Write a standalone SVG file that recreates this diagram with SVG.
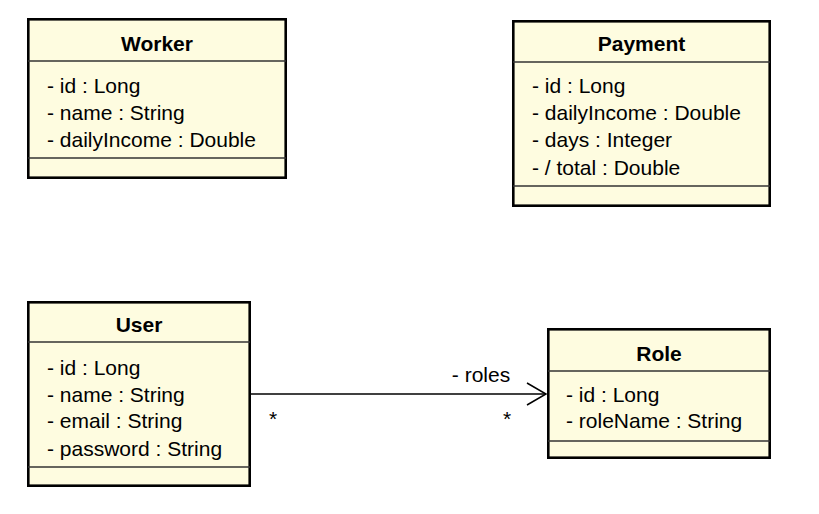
<svg xmlns="http://www.w3.org/2000/svg" width="819" height="514" viewBox="0 0 819 514">
<style>
.box{fill:#FEFCE0;stroke:#000;stroke-width:2.6}
.div{stroke:#333;stroke-width:1.5}
text{font-family:"Liberation Sans",Arial,sans-serif;font-size:21px;fill:#000}
.t{font-weight:bold;text-anchor:middle}
.c{stroke:#000;stroke-width:1.5;fill:none}
</style>
<rect width="819" height="514" fill="#fff"/>
<g id="Worker">
<rect class="box" x="28.3" y="19.3" width="257.4" height="158.4"/>
<line class="div" x1="28" y1="61" x2="286" y2="61"/>
<line class="div" x1="28" y1="158" x2="286" y2="158"/>
<text class="t" x="157" y="51">Worker</text>
<text x="47" y="93">- id : Long</text>
<text x="47" y="120">- name : String</text>
<text x="47" y="147">- dailyIncome : Double</text>
</g>
<g id="Payment">
<rect class="box" x="513.3" y="21.3" width="256.4" height="184.4"/>
<line class="div" x1="513" y1="62" x2="770" y2="62"/>
<line class="div" x1="513" y1="186" x2="770" y2="186"/>
<text class="t" x="641.5" y="51">Payment</text>
<text x="532" y="93">- id : Long</text>
<text x="532" y="120">- dailyIncome : Double</text>
<text x="532" y="147">- days : Integer</text>
<text x="532" y="175">- / total : Double</text>
</g>
<g id="User">
<rect class="box" x="28.3" y="302.3" width="221.4" height="183.4"/>
<line class="div" x1="28" y1="342" x2="250" y2="342"/>
<line class="div" x1="28" y1="467" x2="250" y2="467"/>
<text class="t" x="139" y="332">User</text>
<text x="47" y="375">- id : Long</text>
<text x="47" y="402">- name : String</text>
<text x="47" y="428">- email : String</text>
<text x="47" y="456">- password : String</text>
</g>
<g id="Role">
<rect class="box" x="548.3" y="329.3" width="221.4" height="128.4"/>
<line class="div" x1="548" y1="371" x2="770" y2="371"/>
<line class="div" x1="548" y1="441" x2="770" y2="441"/>
<text class="t" x="659" y="361">Role</text>
<text x="566" y="402">- id : Long</text>
<text x="566" y="428">- roleName : String</text>
</g>
<g id="connectors">
<line class="c" x1="251" y1="394" x2="546" y2="394"/>
<polyline class="c" points="527,383 546,394 527,405"/>
<text x="481" y="382" text-anchor="middle">- roles</text>
<text x="273" y="426" text-anchor="middle">*</text>
<text x="507" y="426" text-anchor="middle">*</text>
</g>
</svg>
